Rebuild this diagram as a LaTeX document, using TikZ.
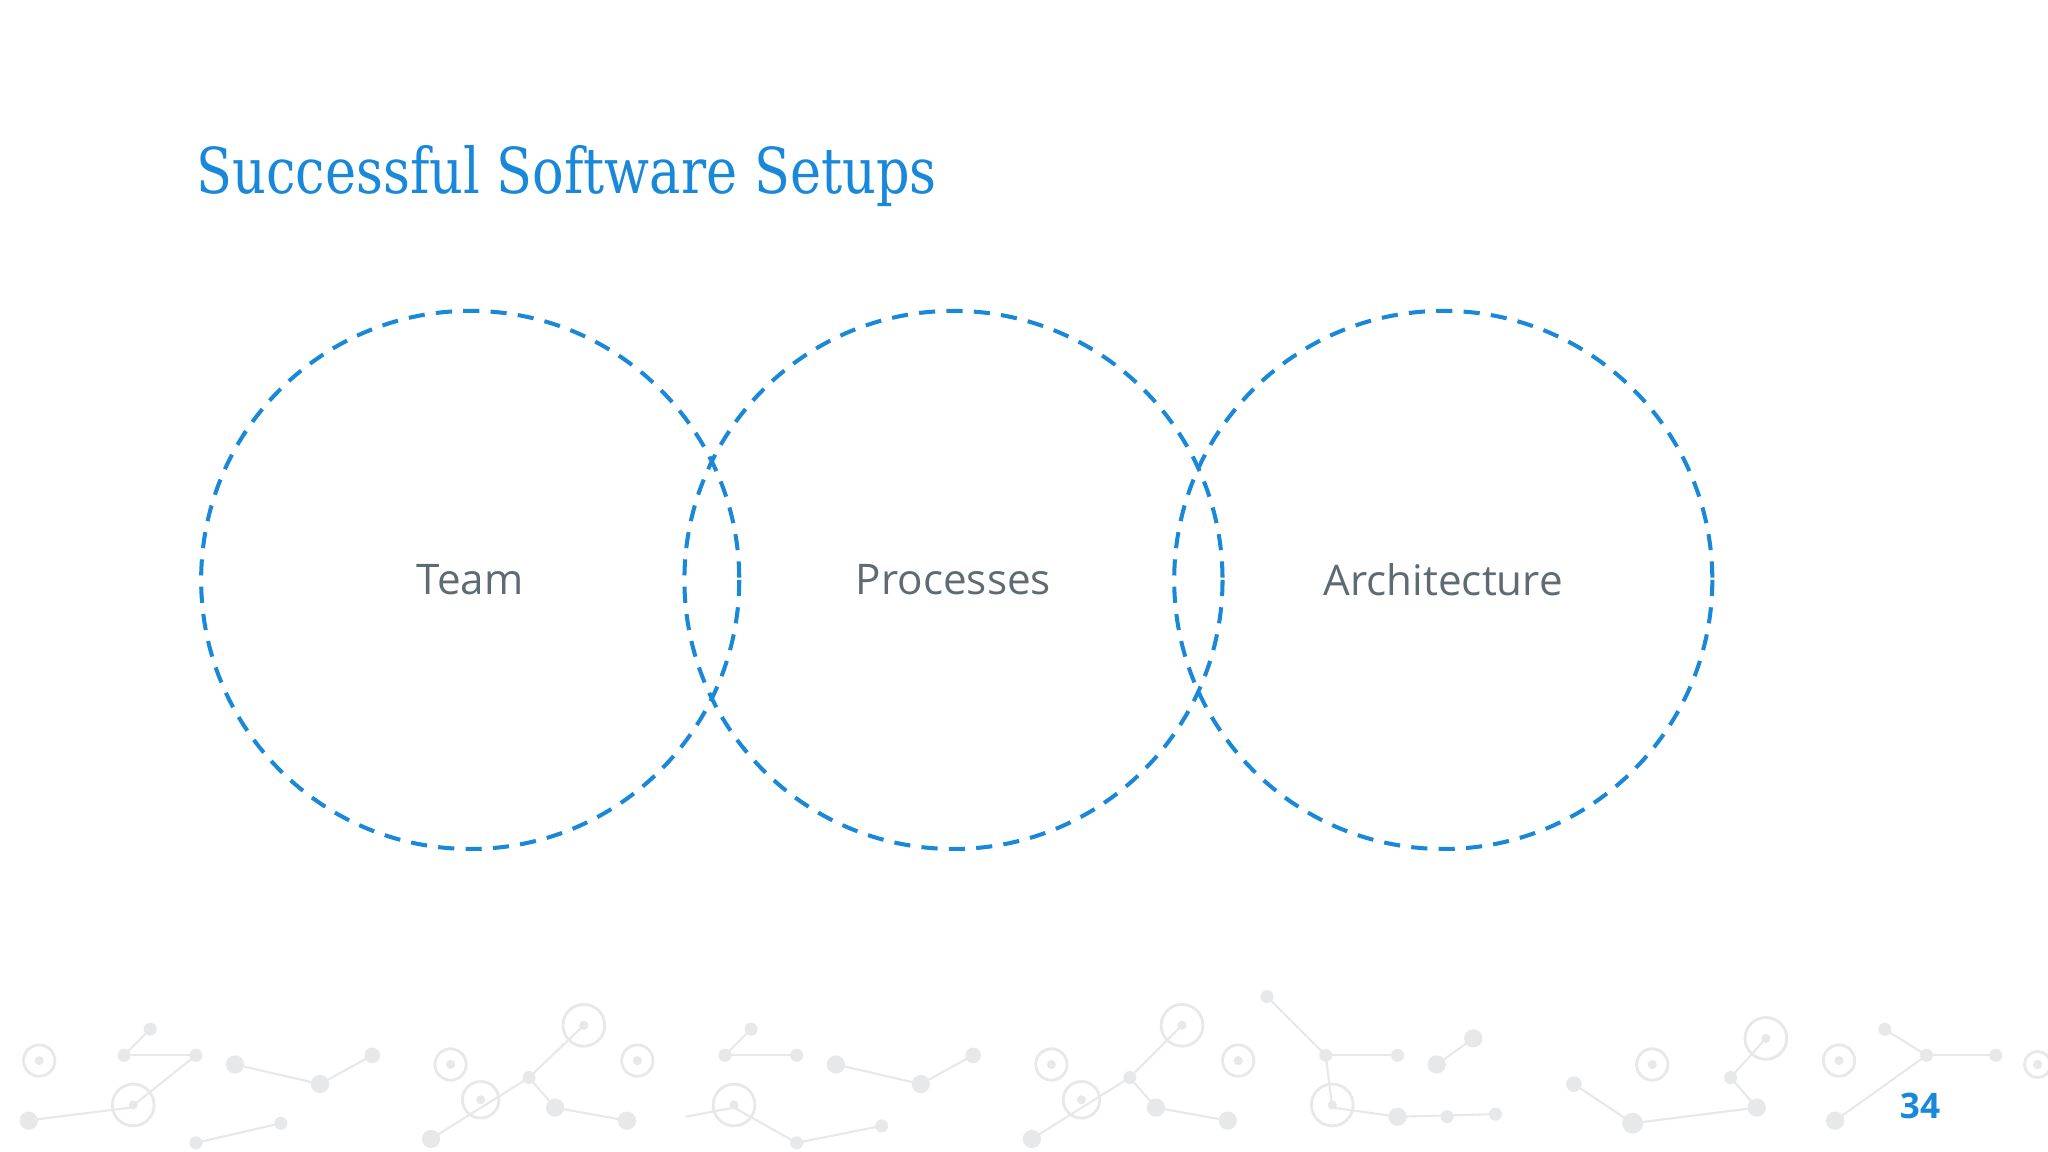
\documentclass[tikz,border=0pt]{standalone}
\usepackage{fontspec}
\usepackage{graphicx}
\setmainfont{Open Sans}
\newfontfamily\titlefont{DejaVu Serif}
\definecolor{accent}{HTML}{1A88D8}
\definecolor{labelgray}{HTML}{5F6B73}
\definecolor{netgray}{HTML}{E6E8EA}
\begin{document}
\begin{tikzpicture}[x=0.013061cm,y=-0.013061cm,
  ring/.style={draw=accent,line width=1.15pt,dash pattern=on 4.6pt off 3.2pt},
  lbl/.style={text=labelgray,font=\fontsize{12}{14}\selectfont},
  netline/.style={draw=netgray,line width=0.6pt},
  dot/.style={fill=netgray},
  hollow/.style={draw=netgray,line width=0.8pt}]
\useasboundingbox (0,0) rectangle (1568,882);
% background network
\foreach \a/\b/\c/\d in {95/808/150/808,95/808/115/788,180/815/245/830,245/830/285/808,330/872/405/825,405/825/447/785,405/825/425/848,425/848/480/858,555/808/575/788,555/808/610/808,640/815/705/830,705/830/745/808,790/872/865/825,865/825/905/785,865/825/885/848,885/848/940/858,970/763/1015/808,1015/808/1070/808,1015/808/1020/848,1070/855/1145/853,1100/815/1128/795,1205/830/1250/860,1250/860/1345/848,1345/848/1325/825,1325/825/1352/795,1405/858/1475/808,1443/788/1475/808,1475/808/1528/808,20/858/100/848,100/848/150/808,150/875/215/860,525/855/562/848,562/848/610/875,610/875/675/862,1020/848/1070/855}
  \draw[netline] (\a,\b) -- (\c,\d);
\foreach \x/\y/\r in {95/808/5,115/788/5,150/808/5,180/815/7,245/830/7,285/808/6,330/872/7,405/825/5,425/848/7,480/858/7,555/808/5,575/788/5,610/808/5,640/815/7,705/830/7,745/808/6,790/872/7,865/825/5,885/848/7,940/858/7,970/763/5,1015/808/5,1070/808/5,1070/855/7,1108/855/5,1145/853/5,1100/815/7,1128/795/7,1205/830/6,1250/860/8,1345/848/7,1325/825/5,1405/858/7,1443/788/5,1475/808/5,1528/808/5,22/858/7,150/875/5,215/860/5,610/875/5,675/862/5}
  \fill[dot] (\x,\y) circle[radius=\r];
\foreach \x/\y/\r in {30/812/12,102/846/16,345/815/12,368/842/14,447/785/16,488/812/12,562/846/16,805/815/12,828/842/14,905/785/16,948/812/12,1020/846/16,1265/815/12,1352/795/16,1408/812/12,1560/815/10}
  {\draw[hollow] (\x,\y) circle[radius=\r]; \fill[dot] (\x,\y) circle[radius=3.5];}
% title
\node[anchor=base west,inner sep=0,text=accent,font=\titlefont\fontsize{18}{22}\selectfont] (title) at (150,148) {\scalebox{0.83}[1]{Successful Software Setups}};
% circles
\draw[ring] (360,444) circle[radius=206];
\draw[ring] (730,444) circle[radius=206];
\draw[ring] (1105,444) circle[radius=206];
\node[lbl] (team) at (360,444) {Team};
\node[lbl] (proc) at (730,444) {Processes};
\node[lbl] (arch) at (1105,444) {Architecture};
\node[text=accent,font=\bfseries\fontsize{10}{12}\selectfont] (page) at (1470,847) {34};
\end{tikzpicture}
\end{document}
